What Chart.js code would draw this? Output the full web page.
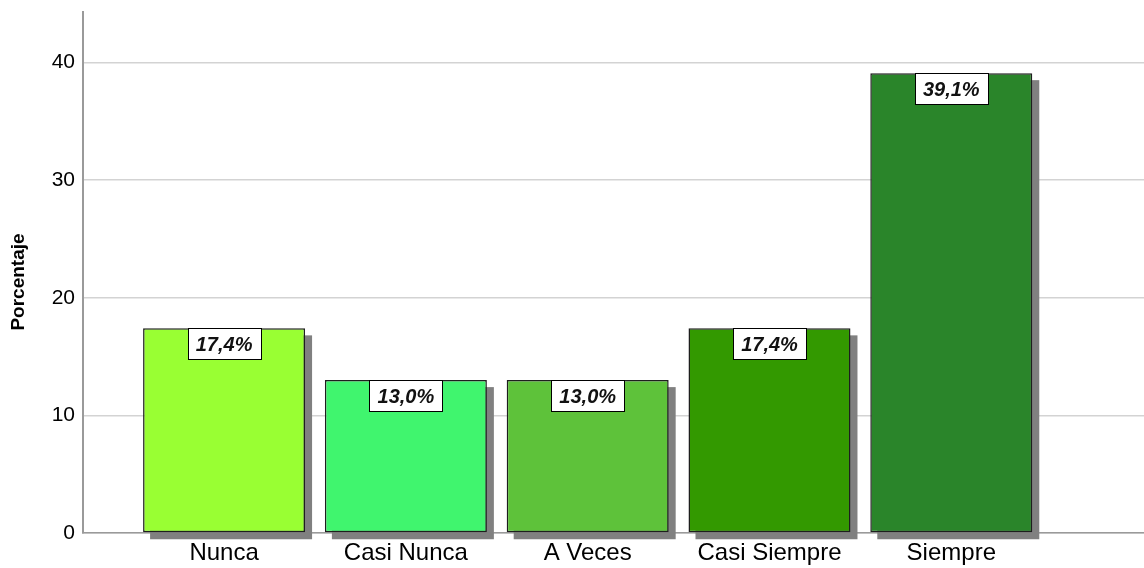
<!DOCTYPE html>
<html>
<head>
<meta charset="utf-8">
<script src="https://cdn.jsdelivr.net/npm/chart.js@4.4.1/dist/chart.umd.min.js"></script>
<style>
  html, body { margin: 0; padding: 0; background: #ffffff; }
  #wrap { position: relative; width: 1144px; height: 568px; }
</style>
</head>
<body>
<div id="wrap"><canvas id="c" width="1144" height="568"></canvas></div>
<script>
const categories = ["Nunca", "Casi Nunca", "A Veces", "Casi Siempre", "Siempre"];
const percentages = [17.4, 13.0, 13.0, 17.4, 39.1];
const barColors = ["#99ff33", "#40f56e", "#5ec23a", "#339900", "#2a852a"];
const yTicks = [0, 10, 20, 30, 40];
const yTitle = "Porcentaje";

const FONT = "'Liberation Sans', Arial, Helvetica, sans-serif";

const shadowPlugin = {
  id: 'barShadow',
  beforeDatasetsDraw(chart) {
    const ctx = chart.ctx;
    const meta = chart.getDatasetMeta(0);
    ctx.save();
    ctx.fillStyle = '#808080';
    meta.data.forEach(bar => {
      const p = bar.getProps(['x', 'y', 'base', 'width'], true);
      const left = p.x - p.width / 2;
      ctx.fillRect(left + 7, p.y + 7, p.width, p.base - p.y);
    });
    ctx.restore();
  }
};

const labelPlugin = {
  id: 'boxLabels',
  afterDatasetsDraw(chart) {
    const ctx = chart.ctx;
    const meta = chart.getDatasetMeta(0);
    ctx.save();
    ctx.font = "italic bold 20px " + FONT;
    ctx.textAlign = 'center';
    ctx.textBaseline = 'middle';
    meta.data.forEach((bar, i) => {
      const p = bar.getProps(['x', 'y'], true);
      const txt = percentages[i].toFixed(1).replace('.', ',') + '%';
      const w = Math.round(ctx.measureText(txt).width + 16);
      const h = 31;
      const left = Math.round(p.x - w / 2) + 0.5;
      const top = Math.round(p.y) + 0.5;
      ctx.fillStyle = '#ffffff';
      ctx.fillRect(left, top, w, h);
      ctx.strokeStyle = '#000000';
      ctx.lineWidth = 1;
      ctx.strokeRect(left, top, w, h);
      ctx.fillStyle = '#111111';
      ctx.fillText(txt, p.x, top + h / 2 + 1);
    });
    ctx.restore();
  }
};

const titlePlugin = {
  id: 'yTitle',
  afterDraw(chart) {
    const ctx = chart.ctx;
    ctx.save();
    ctx.font = "bold 19px " + FONT;
    ctx.fillStyle = '#000000';
    ctx.textAlign = 'center';
    ctx.textBaseline = 'middle';
    ctx.translate(19, chart.height / 2 - 2);
    ctx.rotate(-Math.PI / 2);
    ctx.fillText(yTitle, 0, 0);
    ctx.restore();
  }
};

new Chart(document.getElementById('c'), {
  type: 'bar',
  data: {
    datasets: [{
      data: categories.map((c, i) => ({ x: i, y: percentages[i] })),
      backgroundColor: barColors,
      borderColor: '#1e1e1e',
      borderWidth: 1.5,
      borderSkipped: false,
      categoryPercentage: 1,
      barPercentage: 0.891
    }]
  },
  options: {
    responsive: false,
    animation: false,
    devicePixelRatio: 1,
    layout: { padding: { top: 12, right: 0, left: 0, bottom: 0 } },
    plugins: { legend: { display: false }, tooltip: { enabled: false } },
    scales: {
      x: {
        type: 'linear',
        offset: false,
        min: -0.776,
        max: 5.06,
        grid: { display: false, drawTicks: false },
        border: { display: true, color: '#9a9a9a', width: 1.5 },
        ticks: {
          stepSize: 1,
          includeBounds: false,
          autoSkip: false,
          maxRotation: 0,
          padding: 6,
          color: '#000000',
          font: { family: FONT, size: 24 },
          callback: v => (Number.isInteger(v) && categories[v] !== undefined) ? categories[v] : ''
        },
        afterFit: s => { s.height = 35; s.paddingLeft = 0; s.paddingRight = 0; }
      },
      y: {
        type: 'linear',
        min: 0,
        max: 44.3,
        grid: { color: '#d3d3d3', lineWidth: 1.5, drawTicks: false },
        border: { display: true, color: '#9a9a9a', width: 2 },
        afterBuildTicks: s => { s.ticks = yTicks.map(v => ({ value: v })); },
        ticks: {
          includeBounds: false,
          padding: 8,
          color: '#000000',
          font: { family: FONT, size: 21 }
        },
        afterFit: s => { s.width = 83; s.paddingTop = 0; s.paddingBottom = 0; }
      }
    }
  },
  plugins: [shadowPlugin, labelPlugin, titlePlugin]
});
</script>
</body>
</html>
